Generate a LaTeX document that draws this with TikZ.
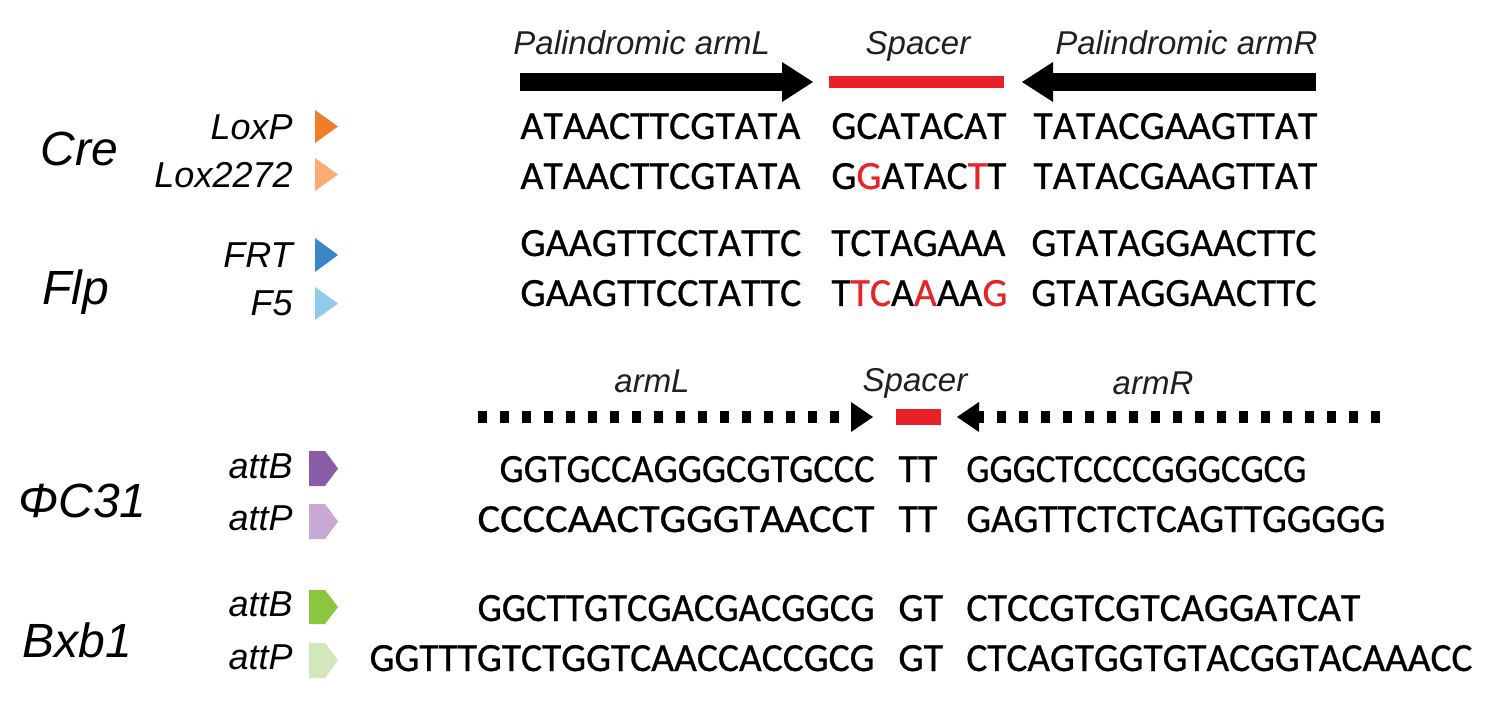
\documentclass[tikz,border=0pt]{standalone}
\usepackage{fontspec}
\usepackage{graphicx}
\setmainfont{Liberation Sans}
\newfontfamily\seqfont[Kerning=Off,FakeBold=0.6]{Carlito}
\usetikzlibrary{arrows.meta}
\definecolor{mutred}{HTML}{E8232A}
\definecolor{barred}{HTML}{E8202A}
\definecolor{hdrgray}{HTML}{231F20}
\definecolor{loxp}{HTML}{F07D27}
\definecolor{loxtt}{HTML}{F9AD75}
\definecolor{frt}{HTML}{3A87C8}
\definecolor{ffive}{HTML}{8FCBEC}
\definecolor{phib}{HTML}{8A5CA6}
\definecolor{phip}{HTML}{C8A9D3}
\definecolor{bxbb}{HTML}{8CC63F}
\definecolor{bxbp}{HTML}{D3E8BA}
\newcommand\mut[1]{\textcolor{mutred}{#1}}
\newsavebox\seqbox
\newlength\seqlen
% fit a sequence to a width given in pixels (1px = 0.5pt), horizontally only
\newcommand\fitseq[2]{\sbox\seqbox{#2}\setlength\seqlen{\wd\seqbox}%
  \pgfmathsetmacro\seqfac{#1*0.5/\seqlen}\scalebox{\seqfac}[1]{\usebox\seqbox}}
\begin{document}
\begin{tikzpicture}[x=0.5pt,y=-0.5pt,
  big/.style={font=\fontsize{24}{28}\selectfont\itshape, inner sep=0pt, anchor=base west},
  lab/.style={font=\fontsize{18}{21}\selectfont\itshape, inner sep=0pt, anchor=base east},
  hdr/.style={font=\fontsize{16.5}{20}\selectfont\itshape, text=hdrgray, inner sep=0pt, anchor=base},
  seq/.style={font=\seqfont\fontsize{20}{24}\selectfont, inner sep=0pt, anchor=base west},
  seqR/.style={seq, anchor=base east},
  solidarrow/.style={line width=9pt, -{Triangle[length=15.5pt,width=20pt,line width=0pt]}},
  dotarrow/.style={line width=6pt, dash pattern=on 4.5pt off 6.5pt, -{Triangle[length=11pt,width=15pt,line width=0pt]}},
]
\fill[white] (0,0) rectangle (1488,705);
\useasboundingbox (0,0) rectangle (1488,705);

% ---------- header ----------
\node[hdr, anchor=base west] (hL) at (513,55) {Palindromic armL};
\node[hdr] (hS) at (918,55) {Spacer};
\node[hdr, anchor=base east] (hR) at (1318,55) {Palindromic armR};
\coordinate (aLs) at (520,82); \coordinate (aLe) at (813,82);
\coordinate (aRs) at (1316,82); \coordinate (aRe) at (1022,82);
\draw[solidarrow] (aLs) -- (aLe);
\draw[solidarrow] (aRs) -- (aRe);
\fill[barred] (829,76) rectangle (1004,88);

% ---------- Cre ----------
\node[big] (cre) at (40,166) {Cre};
\node[lab] (loxp) at (293,140) {LoxP};
\node[lab] (lox2272) at (293,188) {Lox2272};
\fill[loxp] (315,110) -- (315,143) -- (338,126.5) -- cycle;
\fill[loxtt] (315,158) -- (315,191) -- (338,174.5) -- cycle;
\node[seq] (s1a) at (520,139) {\fitseq{280}{ATAACTTCGTATA}};
\node[seq] (s1b) at (831,139) {\fitseq{175}{GCATACAT}};
\node[seq] (s1c) at (1033,139) {\fitseq{284}{TATACGAAGTTAT}};
\node[seq] (s2a) at (520,189) {\fitseq{280}{ATAACTTCGTATA}};
\node[seq] (s2b) at (831,189) {\fitseq{175}{G\mut{G}ATAC\mut{T}T}};
\node[seq] (s2c) at (1033,189) {\fitseq{284}{TATACGAAGTTAT}};

% ---------- Flp ----------
\node[big] (flp) at (42,305) {Flp};
\node[lab] (frtl) at (293,268) {FRT};
\node[lab] (f5l) at (293,316) {F5};
\fill[frt] (315,238) -- (315,272) -- (338,255) -- cycle;
\fill[ffive] (315,287) -- (315,320) -- (338,303.5) -- cycle;
\node[seq] (s3a) at (520,256) {\fitseq{281}{GAAGTTCCTATTC}};
\node[seq] (s3b) at (831,256) {\fitseq{174}{TCTAGAAA}};
\node[seq] (s3c) at (1031,256) {\fitseq{285}{GTATAGGAACTTC}};
\node[seq] (s4a) at (520,306) {\fitseq{281}{GAAGTTCCTATTC}};
\node[seq] (s4b) at (831,306) {\fitseq{176}{T\mut{TC}A\mut{A}AA\mut{G}}};
\node[seq] (s4c) at (1031,306) {\fitseq{285}{GTATAGGAACTTC}};

% ---------- middle header ----------
\node[hdr] (mL) at (652,393) {armL};
\node[hdr] (mS) at (915,392) {Spacer};
\node[hdr] (mR) at (1153,395) {armR};
\coordinate (dLs) at (478,417); \coordinate (dLe) at (873,417);
\coordinate (dRs) at (1380,417); \coordinate (dRe) at (957,417);
\draw[dotarrow] (dLs) -- (dLe);
\draw[dotarrow] (dRs) -- (dRe);
\fill[barred] (896,409) rectangle (941,425);

% ---------- PhiC31 ----------
\node[big] (phi) at (18,517) {ΦC31};
\node[lab] (phibl) at (293,478) {attB};
\node[lab] (phipl) at (293,530) {attP};
\fill[phib] (309,451) -- (325,451) -- (338,468.5) -- (325,486) -- (309,486) -- cycle;
\fill[phip] (309,504) -- (325,504) -- (338,521.5) -- (325,539) -- (309,539) -- cycle;
\node[seqR] (s5a) at (875,482) {\fitseq{375}{GGTGCCAGGGCGTGCCC}};
\node[seq] (s5b) at (898,482) {TT};
\node[seq] (s5c) at (966,482) {\fitseq{340}{GGGCTCCCCGGGCGCG}};
\node[seqR] (s6a) at (875,532) {\fitseq{397}{CCCCAACTGGGTAACCT}};
\node[seq] (s6b) at (898,532) {TT};
\node[seq] (s6c) at (966,532) {\fitseq{419}{GAGTTCTCTCAGTTGGGGG}};

% ---------- Bxb1 ----------
\node[big] (bxb) at (22,657) {Bxb1};
\node[lab] (bxbbl) at (293,616) {attB};
\node[lab] (bxbpl) at (293,669) {attP};
\fill[bxbb] (309,590) -- (325,590) -- (338,607) -- (325,624) -- (309,624) -- cycle;
\fill[bxbp] (309,643) -- (325,643) -- (338,660.5) -- (325,678) -- (309,678) -- cycle;
\node[seqR] (s7a) at (875,621) {\fitseq{397}{GGCTTGTCGACGACGGCG}};
\node[seq] (s7b) at (898,621) {GT};
\node[seq] (s7c) at (966,621) {\fitseq{394}{CTCCGTCGTCAGGATCAT}};
\node[seqR] (s8a) at (875,671) {\fitseq{505}{GGTTTGTCTGGTCAACCACCGCG}};
\node[seq] (s8b) at (898,671) {GT};
\node[seq] (s8c) at (966,671) {\fitseq{506}{CTCAGTGGTGTACGGTACAAACC}};
\end{tikzpicture}
\end{document}
